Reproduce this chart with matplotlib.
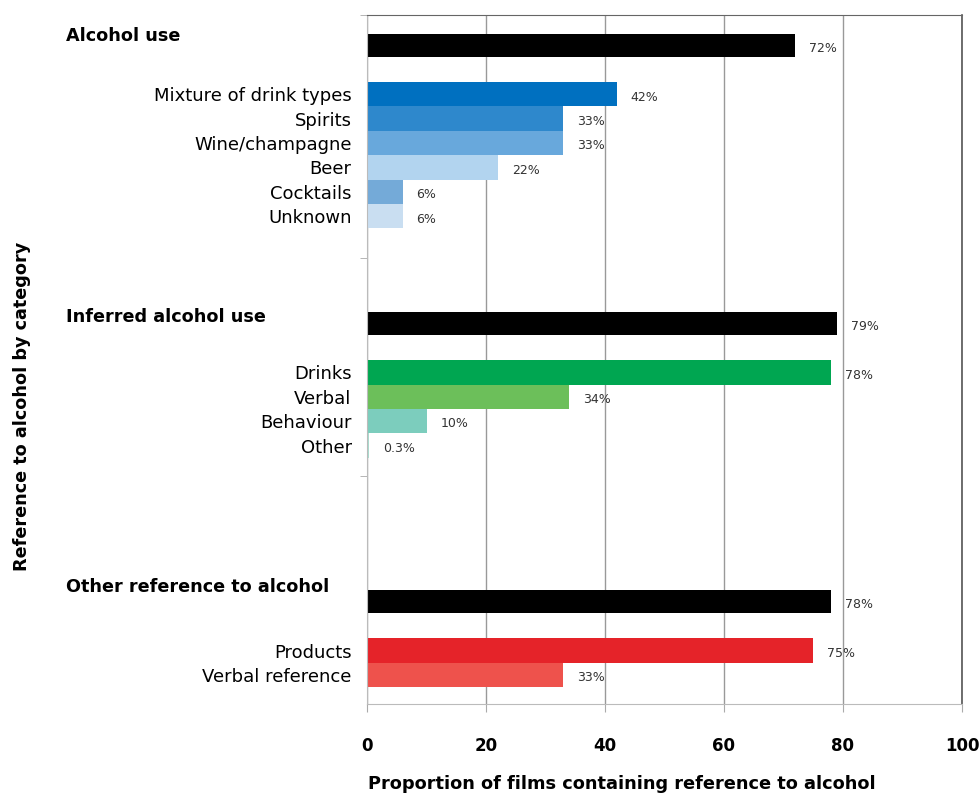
import numpy as np
import matplotlib.pyplot as plt
import matplotlib.transforms as mtransforms

# Daten (Prozent der Filme)
group_names = ['Alcohol use', 'Inferred alcohol use', 'Other reference to alcohol']
group_totals = [72, 79, 78]

alcohol_labels = ['Mixture of drink types', 'Spirits', 'Wine/champagne', 'Beer', 'Cocktails', 'Unknown']
alcohol_values = [42, 33, 33, 22, 6, 6]
alcohol_colors = ['#0070c0', '#2e88cc', '#68a8dc', '#b2d4ef', '#74aad8', '#c9def1']

inferred_labels = ['Drinks', 'Verbal', 'Behaviour', 'Other']
inferred_values = [78, 34, 10, 0.3]
inferred_colors = ['#00a651', '#6cbf5a', '#7ccdbd', '#a9dccf']

other_labels = ['Products', 'Verbal reference']
other_values = [75, 33]
other_colors = ['#e52329', '#ee524c']

sub_labels = [alcohol_labels, inferred_labels, other_labels]
sub_values = [alcohol_values, inferred_values, other_values]
sub_colors = [alcohol_colors, inferred_colors, other_colors]

# Layout (Zeilen von oben)
group_start = [1.25, 12.65, 24.05]
group_label_y = [0.86, 12.38, 23.44]
separators = [0, 9.96, 18.89]

fig = plt.figure(figsize=(9.8, 7.96), dpi=100)
ax = fig.add_axes([0.3745, 0.1156, 0.6071, 0.8656])


def label(y, v):
    ax.annotate(f'{v:g}%', xy=(v, y), xytext=(10, -2), textcoords='offset points',
                ha='left', va='center', fontsize=9, color='#333333')


ytick_pos = []
ytick_lab = []
for g in range(3):
    y0 = group_start[g]
    ax.barh(y0, group_totals[g], height=0.94, color='black')
    label(y0, group_totals[g])
    for i, (lab, v, c) in enumerate(zip(sub_labels[g], sub_values[g], sub_colors[g])):
        y = y0 + 2 + i
        ax.barh(y, v, height=1.0, color=c)
        label(y, v)
        ytick_pos.append(y)
        ytick_lab.append(lab)

# Gruppenüberschriften
trans = mtransforms.blended_transform_factory(fig.transFigure, ax.transData)
for g in range(3):
    ax.text(66 / 980, group_label_y[g], group_names[g], transform=trans,
            ha='left', va='center', fontsize=12.7, fontweight='bold')

ax.set_xlim(0, 100)
ax.set_ylim(28.24, 0)

ax.set_yticks(ytick_pos)
ax.set_yticklabels(ytick_lab, fontsize=13)
ax.tick_params(axis='y', which='major', length=0, pad=11)
ax.set_yticks(separators, minor=True)
ax.tick_params(axis='y', which='minor', length=5, color='#aaaaaa', direction='out')

ax.set_xticks([0, 20, 40, 60, 80, 100])
ax.tick_params(axis='x', length=6, color='#aaaaaa', pad=18, labelsize=12)
for t in ax.get_xticklabels():
    t.set_fontweight('bold')

ax.xaxis.grid(True, color='#999999', linewidth=1)
ax.set_axisbelow(True)

ax.spines['left'].set_color('#bbbbbb')
ax.spines['bottom'].set_color('#bbbbbb')
ax.spines['top'].set_color('#666666')
ax.spines['right'].set_color('#555555')
ax.spines['right'].set_linewidth(1.2)

# Achsenbeschriftung
fig.text(0.022, 0.49, 'Reference to alcohol by category', rotation=90,
         ha='center', va='center', fontsize=12.7, fontweight='bold')
fig.text(0.634, 0.015, 'Proportion of films containing reference to alcohol',
         ha='center', va='center', fontsize=12.8, fontweight='bold')

plt.savefig('out.png', dpi=100)
